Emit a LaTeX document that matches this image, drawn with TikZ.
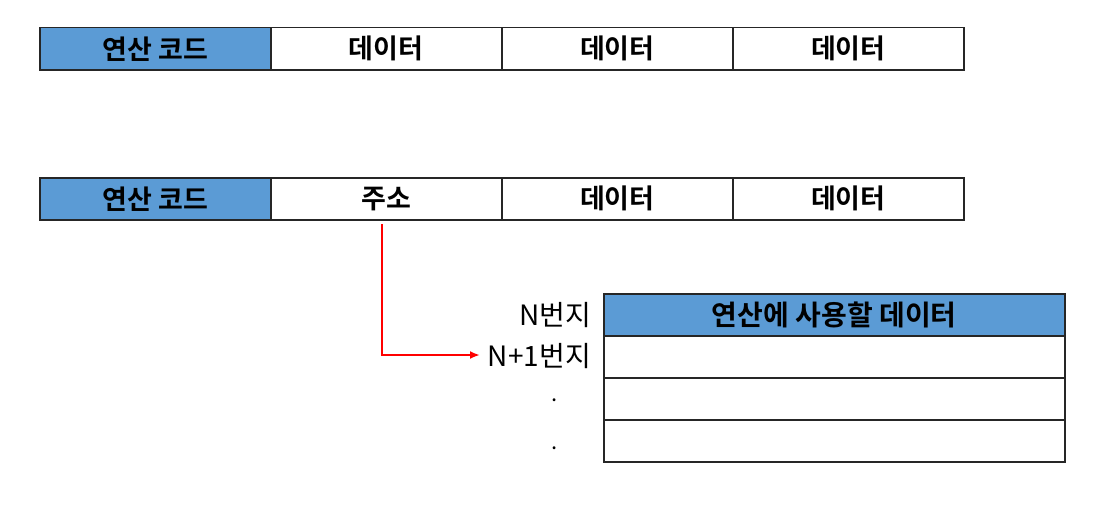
\documentclass[tikz,border=0pt]{standalone}
\usepackage{fontspec}
\newfontfamily\kr{Noto Sans CJK KR}
\newfontfamily\krb{Noto Sans CJK KR Bold}
\usetikzlibrary{arrows.meta}
\definecolor{hdr}{HTML}{5B9BD5}
\definecolor{edge}{HTML}{262626}
\tikzset{
  cell/.style={draw=edge, line width=1.5pt, minimum width=231pt, minimum height=42pt, inner sep=0pt, anchor=north west, font=\krb\fontsize{27}{27}\selectfont},
  hcell/.style={cell, fill=hdr},
  trow/.style={draw=edge, line width=1.5pt, minimum width=461pt, minimum height=42pt, inner sep=0pt, anchor=north west, font=\krb\fontsize{28}{28}\selectfont},
  addr/.style={anchor=east, inner sep=0pt, font=\kr\fontsize{28}{28}\selectfont},
  dotlbl/.style={anchor=center, inner sep=0pt, font=\kr\fontsize{22}{22}\selectfont},
  ptr/.style={draw=red, line width=2pt, -{Latex[length=10pt,width=8pt]}}
}
\begin{document}
\begin{tikzpicture}[x=1pt,y=-1pt]
\useasboundingbox (0,0) rectangle (1107,527);
% row 1
\node[hcell] (a1) at (39,27) {연산 코드};
\node[cell] (a2) at (270,27) {데이터};
\node[cell] (a3) at (501,27) {데이터};
\node[cell] (a4) at (732,27) {데이터};
% row 2
\node[hcell] (b1) at (39,177) {연산 코드};
\node[cell] (b2) at (270,177) {주소};
\node[cell] (b3) at (501,177) {데이터};
\node[cell] (b4) at (732,177) {데이터};
% memory table
\node[trow, fill=hdr] (m0) at (603,293) {연산에 사용할 데이터};
\node[trow] (m1) at (603,335) {};
\node[trow] (m2) at (603,377) {};
\node[trow] (m3) at (603,419) {};
% addresses
\node[addr] (n0) at (591,315) {N번지};
\node[addr] (n1) at (591,356) {N+1번지};
\node[dotlbl] (d1) at (555,400) {.};
\node[dotlbl] (d2) at (555,448) {.};
% pointer
\coordinate (s) at (382,224);
\coordinate (e) at (480,355);
\draw[ptr] (s) |- (e);
\end{tikzpicture}
\end{document}
